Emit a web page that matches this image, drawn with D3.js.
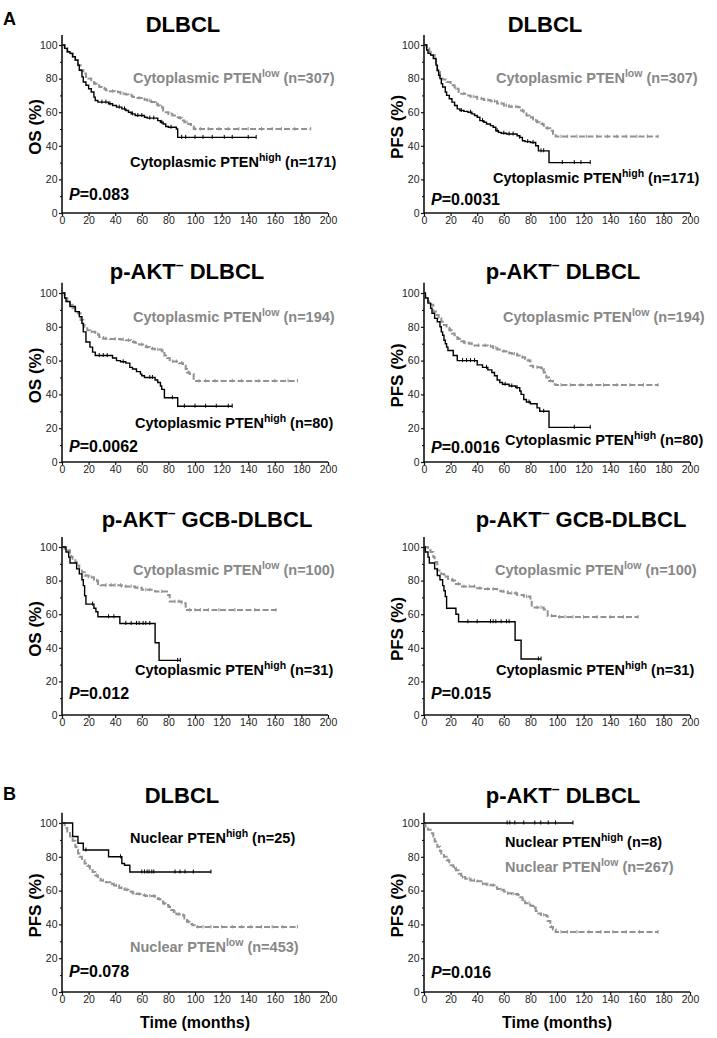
<!DOCTYPE html>
<html><head><meta charset="utf-8">
<script src="https://cdn.jsdelivr.net/npm/d3@7"></script>
<style>
body{margin:0;background:#fff;}
text{font-family:"Liberation Sans",Arial,sans-serif;}
</style></head>
<body>
<svg id="c" width="717" height="1038"></svg>
<script>
// ---------- DATA (Kaplan-Meier step points [months, % surviving]) ----------
const xTicks = [0,20,40,60,80,100,120,140,160,180,200];
const yTicks = [0,20,40,60,80,100];

// Panel 1: OS, DLBCL
const p1High = [[0,100],[2,98],[4,96],[6,95],[8,93],[10,91],[12,88],[13,85],[15,81],[16,78],[18,76],[20,74],[22,72],[24,69],[25,67],[27,66],[35,65],[38,64],[41,63],[45,62],[48,61],[50,60],[52,59],[55,58],[62,57],[64,56.5],[72,55],[74,54],[76,53],[78,51.5],[80,51],[86,50],[87,45],[146,45]];
const p1HighCens = [30,33,36,43,47,53,57,60,66,69,75,82,90,93,100,106,113,122,128,140,146];
const p1Low = [[0,100],[2,98],[4,96],[6,95],[8,93],[10,91],[12,88],[14,85],[16,83],[18,81],[20,80],[22,78],[24,77],[26,76],[28,75],[30,74],[33,73],[36,72.5],[40,72],[44,71],[48,70.5],[50,70],[53,69],[56,68.5],[60,67.5],[64,67],[67,66],[70,65],[72,64],[74,63],[76,61],[78,60],[80,59],[83,58],[86,57],[88,56.5],[90,55],[92,54],[95,53],[97,51.5],[99,50],[187,50]];
const p1LowCens = [25,32,38,42,46,52,58,62,66,71,75,82,89,94,100,104,110,118,125,133,140,150,158,165,175,187];

// Panel 2: PFS, DLBCL
const p2High = [[0,100],[2,97],[3,95],[5,94],[7,92],[9,88],[10,85],[11,82],[12,80],[13,77],[14,75],[16,72],[17,70],[19,68],[21,66],[23,64],[25,62],[27,61],[30,60.5],[33,60],[36,59],[38,58],[40,57],[42,55],[45,54],[47,53],[50,52],[52,51],[54,49],[56,48],[58,47.5],[62,47],[70,46],[72,45],[74,43],[76,42.5],[80,42],[84,40],[86,37],[94,30],[125,30]];
const p2HighCens = [28,35,44,55,60,64,67,72,78,82,88,90,104,113,118,125];
const p2Low = [[0,100],[2,98],[4,96],[6,94],[8,92],[9,88],[10,84],[12,81],[14,79.5],[17,78],[20,76],[23,74],[26,72],[28,71],[31,70],[35,69.2],[40,68],[45,67.2],[50,66.5],[55,65.2],[60,64],[64,63.3],[71,63],[73,61],[75,60],[77,58],[79,57],[82,55],[85,54],[87,53],[90,52],[92,50.5],[95,49],[97,47],[99,45.5],[176,45.5]];
const p2LowCens = [24,30,37,43,48,53,58,62,66,69,74,80,84,89,93,103,108,115,122,130,138,145,152,160,168,176];

// Panel 3: OS, p-AKT- DLBCL
const p3High = [[0,100],[2,97],[3,95],[6,92],[10,89],[13,86],[15,82],[16,77],[18,71],[21,68],[23,65],[25,63],[38,61.5],[41,60],[44,59.3],[48,58.5],[51,56],[53,55],[56,53.5],[59,52],[60,51],[62,50],[70,48.5],[72,47],[74,45],[75,43],[77,38],[87,33],[128,33]];
const p3HighCens = [28,31,34,46,66,68,83,92,100,108,116,125,128];
const p3Low = [[0,100],[2,97],[4,95],[6,93],[8,91],[10,89.5],[12,88],[14,84],[16,81],[17,80],[19,78],[21,77],[25,75.5],[28,74],[31,73],[36,72.8],[44,72.5],[48,72],[52,71],[55,70.5],[58,69.5],[61,69],[63,68],[66,67],[70,66.5],[75,65.5],[77,63],[79,61.5],[81,59.5],[88,58.5],[91,57],[93,55],[94,53],[96,52],[99,48],[177,48]];
const p3LowCens = [22,27,33,40,46,50,54,60,64,68,72,76,83,86,90,95,103,108,115,128,135,148,160,170,177];

// Panel 4: PFS, p-AKT- DLBCL
const p4High = [[0,100],[1,97],[3,94],[5,91],[6,88],[8,85],[10,83],[12,80],[13,77],[14,75],[15,72],[16,70],[17,68],[18,66],[22,63],[25,60],[40,57.5],[44,56],[48,54.5],[51,53],[53,51],[55,48.5],[57,47],[59,46],[64,45],[69,44],[72,42],[73,40],[75,37],[77,35.5],[80,34.5],[85,32],[87,30],[94,20.5],[125,20.5]];
const p4HighCens = [29,32,35,38,47,61,66,70,79,90,113,125];
const p4Low = [[0,100],[1,98],[3,95],[5,93],[7,89],[9,87],[11,85],[13,83],[15,81],[17,79.5],[19,78],[21,76],[23,75],[25,73],[28,71.5],[30,70.5],[34,70],[38,69],[48,68.5],[52,67.5],[55,66.5],[58,65.5],[62,64.5],[66,64],[70,63],[72,62],[76,61],[78,60],[80,57],[82,56],[88,55],[90,53],[92,50],[94,48],[97,46],[99,45.5],[176,45.5]];
const p4LowCens = [20,26,31,36,41,46,50,54,60,64,68,74,79,85,89,95,103,110,118,126,135,145,155,165,176];

// Panel 5: OS, p-AKT- GCB-DLBCL
const p5High = [[0,100],[3,97],[5,94],[6,90.5],[11,87],[13,84],[15,80.5],[16,77],[17,71],[18,66],[24,63.5],[25.5,61.5],[27,58.5],[43.5,54.5],[70,43],[73,32.5],[89,32.5]];
const p5HighCens = [23,35,39,48,52,56,58,61,63,66,87,89];
const p5Low = [[0,100],[2,99],[4,98],[6,96],[7,94],[8,93],[10,91],[11,89],[13,87],[15,85],[17,83],[20,82],[24,80],[27,78],[29,77.3],[45,76.5],[55,75.8],[60,74.5],[70,73.5],[79,71.5],[81,67.5],[90,66.5],[93,62.5],[161,62.5]];
const p5LowCens = [18,22,26,33,37,40,44,48,52,57,63,66,75,85,88,96,100,104,110,118,130,145,161];

// Panel 6: PFS, p-AKT- GCB-DLBCL
const p6High = [[0,100],[1,97],[3,94],[4,90.5],[8,87],[10,83],[12,80.5],[14,77],[15,74],[16,70.5],[17,63.5],[24,60],[26,55.5],[68.5,44.5],[73,33.3],[88,33.3]];
const p6HighCens = [33,40,50,52,54,58,62,64,86,88];
const p6Low = [[0,100],[3,98],[5,97],[7,94],[8,91],[10,86],[13,84],[15,82.5],[18,81],[21,80],[24,78],[27,76.5],[40,75.5],[45,75],[55,74],[58,73.5],[63,72.5],[70,71.5],[75,70.5],[80,68.5],[81,64],[90,62.8],[93,59],[100,58.3],[161,58.3]];
const p6LowCens = [16,22,26,30,34,38,42,48,52,60,66,69,77,85,88,96,102,106,112,120,130,140,150,161];

// Panel 7: PFS, DLBCL, nuclear PTEN
const p7High = [[0,100],[8,92],[12,88],[16,84],[35,80],[45,76],[47,75],[51,71],[112,71]];
const p7HighCens = [18,44,60,62,64,65.5,67.5,69,85,88.7,92.5,98.7,112];
const p7Low = [[0,100],[2,97],[4,95],[6,92],[8,89.5],[10,86],[11,84],[12,82],[13,80],[15,78],[17,76],[19,74.5],[21,73],[23,71],[25,69],[27,67],[29,66],[33,65],[36,64],[39,63],[43,61.5],[47,60.5],[50,59.5],[53,58.5],[56,58],[60,57.2],[63,56.8],[70,56.3],[72,55],[74,53.5],[76,52.3],[78,51.5],[80,50.3],[82,48.5],[84,47.3],[86,46],[90,45.4],[92,43.5],[94,41.5],[96,40.2],[98,39.5],[100,38.5],[177,38.5]];
const p7LowCens = [20,26,31,37,41,45,49,54,58,62,66,69,73,77,81,85,88,91,95,102,106,112,120,128,135,142,150,158,166,177];

// Panel 8: PFS, p-AKT- DLBCL, nuclear PTEN
const p8High = [[0,100],[112,100]];
const p8HighCens = [62.5,64.5,68.3,75,83.3,87.8,93.4,98.9,112];
const p8Low = [[0,100],[1,98],[3,96],[5,94],[7,92],[8,89],[10,86],[12,83.5],[13,82],[15,80],[17,78],[19,76],[20,75],[22,73.5],[24,72],[26,70],[28,68],[31,67],[35,66],[40,65.5],[43,64],[47,63.5],[50,63.2],[53,62],[55,61],[57,60.5],[60,59.5],[62,58.5],[66,58],[70,57.5],[72,56],[74,54.5],[76,52.5],[80,51],[82,50],[84,48],[86,46.5],[88,45.5],[92,45],[93,42],[95,38.5],[97,37],[99,35.5],[176,35.5]];
const p8LowCens = [18,23,29,34,38,44,48,52,58,63,67,71,75,79,83,90,96,103,108,115,124,133,142,152,162,176];

const titles = ["DLBCL","DLBCL","p-AKT|DLBCL","p-AKT|DLBCL","p-AKT|GCB-DLBCL","p-AKT|GCB-DLBCL","DLBCL","p-AKT|DLBCL"];
const yLabels = ["OS (%)","PFS (%)","OS (%)","PFS (%)","OS (%)","PFS (%)","PFS (%)","PFS (%)"];
const pValues = ["0.083","0.0031","0.0062","0.0016","0.012","0.015","0.078","0.016"];
const highLabels = [["Cytoplasmic PTEN","high"," (n=171)"],["Cytoplasmic PTEN","high"," (n=171)"],["Cytoplasmic PTEN","high"," (n=80)"],["Cytoplasmic PTEN","high"," (n=80)"],["Cytoplasmic PTEN","high"," (n=31)"],["Cytoplasmic PTEN","high"," (n=31)"],["Nuclear PTEN","high"," (n=25)"],["Nuclear PTEN","high"," (n=8)"]];
const lowLabels = [["Cytoplasmic PTEN","low"," (n=307)"],["Cytoplasmic PTEN","low"," (n=307)"],["Cytoplasmic PTEN","low"," (n=194)"],["Cytoplasmic PTEN","low"," (n=194)"],["Cytoplasmic PTEN","low"," (n=100)"],["Cytoplasmic PTEN","low"," (n=100)"],["Nuclear PTEN","low"," (n=453)"],["Nuclear PTEN","low"," (n=267)"]];
const highCurves = [p1High,p2High,p3High,p4High,p5High,p6High,p7High,p8High];
const highCens = [p1HighCens,p2HighCens,p3HighCens,p4HighCens,p5HighCens,p6HighCens,p7HighCens,p8HighCens];
const lowCurves = [p1Low,p2Low,p3Low,p4Low,p5Low,p6Low,p7Low,p8Low];
const lowCens = [p1LowCens,p2LowCens,p3LowCens,p4LowCens,p5LowCens,p6LowCens,p7LowCens,p8LowCens];

// ---------- LAYOUT ----------
const colX = [[62,328],[424,690]];
const rowY = [[45,213],[293,462],[547,715],[823,992]];
const titlePos = [[183,32],[545,32],[187,279],[563,279],[207,527],[581,527],[182,803],[563,803]];
const lowPos = [[133,83],[496,83],[133,322],[503,322],[133,575],[495,575],[130,952],[505,872]];
const highPos = [[130,167],[493,183],[135,428],[505,445],[135,675],[496,675],[130,843],[505,847]];
const pPos = [[69,200],[431,205],[69,452],[431,453],[69,699],[431,699],[69,977],[431,978]];

const GRAY = "#929292", GRAYTXT = "#878787";
const svg = d3.select("#c");

function survAt(curve, t){ let s = curve[0][1]; for (const d of curve){ if (d[0] <= t) s = d[1]; } return s; }

function label(g, x, y, parts, color){
  const t = g.append("text").attr("x",x).attr("y",y).attr("fill",color)
    .attr("font-size",14.5).attr("font-weight","bold");
  t.append("tspan").text(parts[0]);
  t.append("tspan").attr("font-size",10.5).attr("dy",-6).text(parts[1]);
  t.append("tspan").attr("dy",6).text(parts[2]);
}

for (let i=0;i<8;i++){
  const [x0,x1] = colX[i%2];
  const [yT,yB] = rowY[Math.floor(i/2)];
  const x = d3.scaleLinear().domain([0,200]).range([x0,x1]);
  const y = d3.scaleLinear().domain([0,100]).range([yB,yT]);
  const g = svg.append("g");

  // axes
  const ax = g.append("g").attr("transform",`translate(0,${yB})`)
    .call(d3.axisBottom(x).tickValues(xTicks).tickSize(3).tickPadding(1).tickFormat(d3.format("d")));
  const ay = g.append("g").attr("transform",`translate(${x0},0)`)
    .call(d3.axisLeft(y).tickValues(yTicks).tickSize(3).tickPadding(1.5));
  g.append("g").attr("transform",`translate(${x0},0)`)
    .call(d3.axisLeft(y).tickValues([10,30,50,70,90]).tickSize(2).tickFormat(""))
    .select(".domain").remove();
  [ax,ay].forEach(a=>{
    a.selectAll("text").attr("font-size",10.5).attr("fill","#222").attr("font-family","'Liberation Sans',Arial,sans-serif");
    a.selectAll("line").attr("stroke","#111").attr("stroke-width",1.2);
  });
  ax.select(".domain").remove(); ay.select(".domain").remove();
  g.append("line").attr("x1",x0).attr("x2",x1).attr("y1",yB).attr("y2",yB).attr("stroke","#111").attr("stroke-width",1.6);
  g.append("line").attr("x1",x0).attr("x2",x0).attr("y1",yB).attr("y2",y(106)).attr("stroke","#111").attr("stroke-width",1.6);

  const line = d3.line().curve(d3.curveStepAfter).x(d=>x(d[0])).y(d=>y(d[1]));

  // low (gray dashed)
  g.append("path").datum(lowCurves[i]).attr("d",line).attr("fill","none")
    .attr("stroke",GRAY).attr("stroke-width",2).attr("stroke-dasharray","6,2.5");
  g.selectAll(null).data(lowCens[i]).enter().append("line")
    .attr("x1",d=>x(d)).attr("x2",d=>x(d))
    .attr("y1",d=>y(survAt(lowCurves[i],d))-2).attr("y2",d=>y(survAt(lowCurves[i],d))+1.5)
    .attr("stroke",GRAY).attr("stroke-width",1);

  // high (black solid)
  g.append("path").datum(highCurves[i]).attr("d",line).attr("fill","none")
    .attr("stroke","#000").attr("stroke-width",1.4);
  g.selectAll(null).data(highCens[i]).enter().append("line")
    .attr("x1",d=>x(d)).attr("x2",d=>x(d))
    .attr("y1",d=>y(survAt(highCurves[i],d))-2.5).attr("y2",d=>y(survAt(highCurves[i],d))+1.5)
    .attr("stroke","#000").attr("stroke-width",1);

  // title
  const tp = titles[i].split("|");
  const tt = svg.append("text").attr("x",titlePos[i][0]).attr("y",titlePos[i][1])
    .attr("text-anchor","middle").attr("font-size",22).attr("font-weight","bold").attr("fill","#000");
  if (tp.length===2){
    tt.append("tspan").text(tp[0]);
    tt.append("tspan").attr("font-size",14).attr("dy",-9).text("\u2013");
    tt.append("tspan").attr("dy",9).text(" "+tp[1]);
  } else tt.text(tp[0]);

  // y label
  const cy = (yT+yB)/2 - 2, cx = x0 - 27;
  svg.append("text").attr("transform",`translate(${cx},${cy}) rotate(-90)`)
    .attr("text-anchor","middle").attr("dy","0.36em")
    .attr("font-size",17).attr("font-weight","bold").text(yLabels[i]);

  // legend labels
  label(svg, lowPos[i][0], lowPos[i][1], lowLabels[i], GRAYTXT);
  label(svg, highPos[i][0], highPos[i][1], highLabels[i], "#000");

  // p value
  const pt = svg.append("text").attr("x",pPos[i][0]).attr("y",pPos[i][1])
    .attr("font-size",16).attr("font-weight","bold");
  pt.append("tspan").attr("font-style","italic").text("P");
  pt.append("tspan").text("="+pValues[i]);

  if (i>=6){
    svg.append("text").attr("x",(x0+x1)/2).attr("y",1028).attr("text-anchor","middle")
      .attr("font-size",16).attr("font-weight","bold").text("Time (months)");
  }
}
svg.append("text").attr("x",3).attr("y",25).attr("font-size",18).attr("font-weight","bold").text("A");
svg.append("text").attr("x",3).attr("y",800).attr("font-size",18).attr("font-weight","bold").text("B");
</script>
</body></html>
